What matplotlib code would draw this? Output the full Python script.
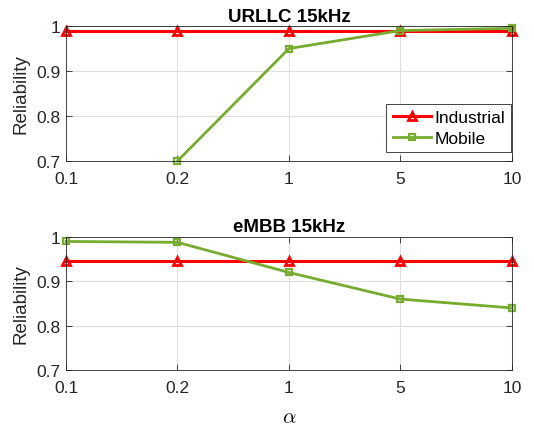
import matplotlib
matplotlib.use("Agg")
import matplotlib.pyplot as plt
import numpy as np

plt.rcParams['font.family'] = ['Liberation Sans', 'DejaVu Sans']
plt.rcParams['mathtext.fontset'] = 'cm'

# data
alpha_labels = ['0.1', '0.2', '1', '5', '10']
urllc_industrial = [0.99, 0.99, 0.99, 0.99, 0.99]
urllc_mobile = [np.nan, 0.70, 0.95, 0.99, 0.995]
embb_industrial = [0.945, 0.945, 0.945, 0.945, 0.945]
embb_mobile = [0.99, 0.988, 0.92, 0.86, 0.84]

red = '#FF0000'
green = '#77AC30'
x = np.arange(len(alpha_labels))

fig = plt.figure(figsize=(5.34, 4.27), dpi=100)
ax1 = fig.add_axes([0.1236, 0.6206, 0.835, 0.316])
ax2 = fig.add_axes([0.1236, 0.1311, 0.835, 0.3115])


def style(ax, title):
    ax.set_xlim(0, len(alpha_labels) - 1)
    ax.set_ylim(0.7, 1.0)
    ax.set_xticks(x)
    ax.set_xticklabels(alpha_labels)
    ax.set_yticks([0.7, 0.8, 0.9, 1.0])
    ax.set_yticklabels(['0.7', '0.8', '0.9', '1'])
    ax.tick_params(direction='in', top=True, right=True, labelsize=12.5,
                   colors='#262626', length=4, width=0.6)
    ax.tick_params(axis='x', pad=7)
    ax.tick_params(axis='y', pad=4)
    ax.grid(True, color='#DFDFDF', linewidth=0.8)
    ax.set_axisbelow(True)
    for s in ax.spines.values():
        s.set_linewidth(0.6)
        s.set_color('#262626')
    ax.set_ylabel('Reliability', fontsize=13.5, color='#262626', labelpad=5)
    ax.set_title(title, fontsize=13.5, fontweight='bold', pad=4)


ax1.plot(x, urllc_industrial, color=red, lw=2.2, marker='^', ms=6,
         mfc='none', mew=2, label='Industrial', clip_on=False)
ax1.plot(x, urllc_mobile, color=green, lw=2, marker='s', ms=4.5,
         mfc='none', mew=1.6, label='Mobile', clip_on=False)
style(ax1, 'URLLC 15kHz')
leg = ax1.legend(loc='lower right', bbox_to_anchor=(0.998, 0.065), fontsize=12.5,
                 fancybox=False, edgecolor='#262626', framealpha=1,
                 handlelength=2.2, borderpad=0.35, labelspacing=0.35,
                 handletextpad=0.2, borderaxespad=0.0)
leg.get_frame().set_linewidth(0.6)

ax2.plot(x, embb_industrial, color=red, lw=2.2, marker='^', ms=6,
         mfc='none', mew=2, clip_on=False)
ax2.plot(x, embb_mobile, color=green, lw=2, marker='s', ms=4.5,
         mfc='none', mew=1.6, clip_on=False)
style(ax2, 'eMBB 15kHz')
ax2.set_xlabel(r'$\alpha$', fontsize=15, labelpad=9)

fig.savefig('out.png', dpi=100)
